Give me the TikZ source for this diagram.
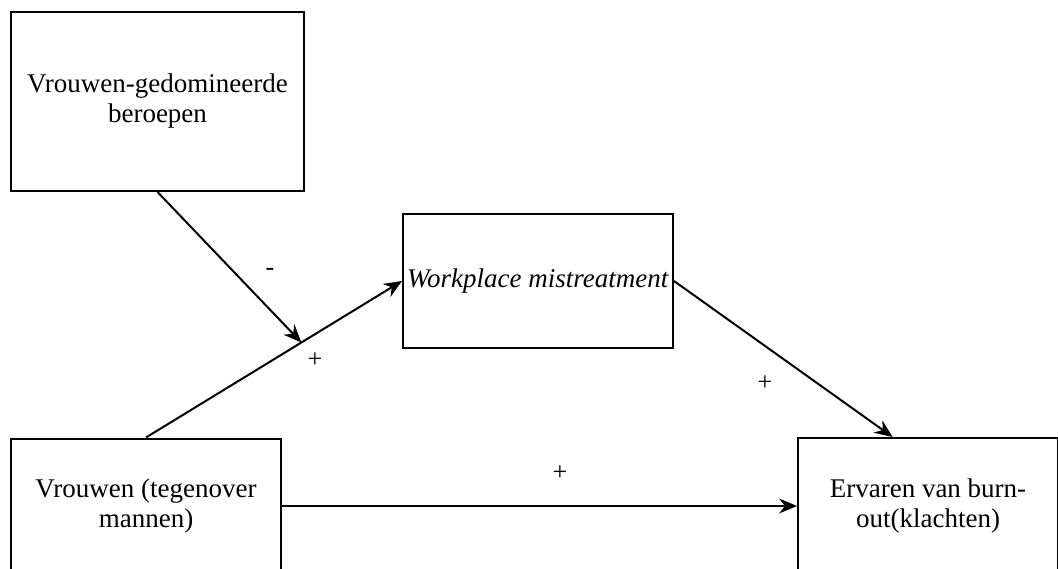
\documentclass[tikz,border=0pt]{standalone}
\usepackage{fontspec}
\setmainfont{Liberation Serif}
\usetikzlibrary{arrows.meta,calc}
\begin{document}
\begin{tikzpicture}[x=1pt,y=-1pt,
  box/.style={draw=black,line width=2pt,fill=white,align=center,inner sep=0pt,
    font=\fontsize{27}{30}\selectfont},
  conn/.style={line width=2pt,-{Stealth[length=18pt,width=15pt,inset=6pt]}},
  sign/.style={font=\fontsize{26}{30}\selectfont,inner sep=0pt}]
\useasboundingbox (0,0) rectangle (1058,569);
\node[box,minimum width=293pt,minimum height=179pt] (tl) at (157.5,101.5) {Vrouwen-gedomineerde\\beroepen};
\node[box,minimum width=270pt,minimum height=134pt] (mid) at (538,281) {\textit{Workplace mistreatment}};
\node[box,minimum width=270pt,minimum height=135pt] (bl) at (146,506) {Vrouwen (tegenover\\mannen)};
\node[box,minimum width=260pt,minimum height=136pt] (br) at (928,506) {Ervaren van burn-\\out(klachten)};
\coordinate (j) at ($(bl.north)!0.607!(mid.west)$);
\coordinate (brin) at ($(br.north west)!0.365!(br.north east)$);
\draw[conn] (bl.north) -- (mid.west);
\draw[conn] (tl.south) -- (j);
\draw[conn] (mid.east) -- (brin);
\draw[conn] (bl.east) -- (br.west);
\node[sign] (m1) at (270,272) {-};
\node[sign] (p1) at (315,360) {+};
\node[sign] (p2) at (765,383) {+};
\node[sign] (p3) at (560,473) {+};
\end{tikzpicture}
\end{document}
